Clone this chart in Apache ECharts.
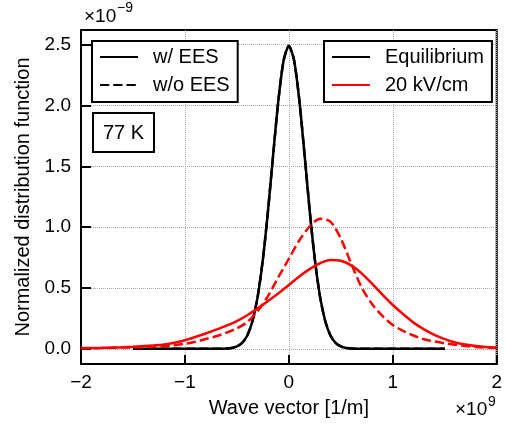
<!DOCTYPE html>
<html><head><meta charset="utf-8">
<script src="https://cdn.jsdelivr.net/npm/echarts@6/dist/echarts.min.js"></script>
<style>html,body{margin:0;padding:0;background:#fff}#c{width:505px;height:424px}</style>
</head><body><div id="c"></div>
<script>
// Wave vector (x1e9 1/m) for the 20 kV/cm curves
const xField = [-2.0,-1.9,-1.8,-1.7,-1.6,-1.5,-1.4,-1.3,-1.2,-1.1,-1.0,-0.9,-0.8,-0.7,-0.6,-0.5,-0.4,-0.3,-0.2,-0.1,0.0,0.1,0.2,0.3,0.4,0.5,0.6,0.7,0.8,0.9,1.0,1.1,1.2,1.3,1.4,1.5,1.6,1.7,1.8,1.9,2.0];
// 20 kV/cm, w/ EES (solid red)
const field20WithEES = [0.006,0.007,0.008,0.010,0.013,0.017,0.022,0.028,0.036,0.050,0.070,0.097,0.126,0.157,0.190,0.228,0.276,0.332,0.393,0.457,0.525,0.595,0.655,0.703,0.730,0.724,0.686,0.620,0.535,0.445,0.360,0.285,0.215,0.160,0.115,0.080,0.052,0.035,0.023,0.015,0.010];
// 20 kV/cm, w/o EES (dashed red)
const field20WithoutEES = [0.004,0.005,0.006,0.008,0.010,0.012,0.015,0.018,0.022,0.030,0.041,0.058,0.080,0.103,0.133,0.168,0.220,0.310,0.435,0.590,0.740,0.890,1.005,1.068,1.045,0.905,0.700,0.505,0.368,0.270,0.195,0.148,0.109,0.078,0.060,0.045,0.033,0.023,0.015,0.010,0.006];
// Wave vector for the equilibrium curve
const xEq = [-1.5,-1.45,-1.4,-1.35,-1.3,-1.25,-1.2,-1.15,-1.1,-1.05,-1.0,-0.95,-0.9,-0.85,-0.8,-0.75,-0.7,-0.65,-0.6,-0.55,-0.5,-0.45,-0.4,-0.35,-0.3,-0.25,-0.2,-0.15,-0.1,-0.05,0.0,0.05,0.1,0.15,0.2,0.25,0.3,0.35,0.4,0.45,0.5,0.55,0.6,0.65,0.7,0.75,0.8,0.85,0.9,0.95,1.0,1.05,1.1,1.15,1.2,1.25,1.3,1.35,1.4,1.45,1.5];
// Equilibrium (same with and without EES)
const equilibrium = [0,0,0,0,0,0,0,0,0,0,0,0,0,0,0,0,0,0.001,0.002,0.007,0.019,0.048,0.109,0.228,0.429,0.735,1.140,1.605,2.048,2.371,2.490,2.371,2.048,1.605,1.140,0.735,0.429,0.228,0.109,0.048,0.019,0.007,0.002,0.001,0,0,0,0,0,0,0,0,0,0,0,0,0,0,0,0,0];
const yTickValues = [0, 0.5, 1.0, 1.5, 2.0, 2.5];
const legendStyle = ['w/ EES', 'w/o EES'];
const legendCase = ['Equilibrium', '20 kV/cm'];

const FONT = '"Liberation Sans", Arial, sans-serif';
const DASH = [9.25, 4];
function pairs(xs, ys) { return xs.map((x, i) => [x, ys[i]]); }

const chart = echarts.init(document.getElementById('c'), null, {renderer: 'canvas'});
const legendCommon = {
  orient: 'vertical', top: 41, backgroundColor: '#fff', borderColor: '#000', borderWidth: 2,
  borderRadius: 0, padding: [6, 8, 7, 7], itemWidth: 38, itemHeight: 14, itemGap: 8,
  itemStyle: {opacity: 0},
  textStyle: {fontSize: 20, color: '#000', fontFamily: FONT, padding: [0, 0, 0, 10]},
  selectedMode: false, z: 10
};
chart.setOption({
  animation: false,
  textStyle: {fontFamily: FONT},
  grid: {left: 81, right: 3, top: 30, bottom: 60, show: true, borderColor: '#000', borderWidth: 2, containLabel: false},
  xAxis: {
    type: 'value', min: -2, max: 2, interval: 1,
    axisLine: {show: true, onZero: false, lineStyle: {color: '#000', width: 2}},
    axisTick: {show: true, inside: true, length: 9, lineStyle: {color: '#000', width: 2}},
    axisLabel: {fontSize: 19, color: '#000', margin: 9, fontFamily: FONT,
      formatter: v => String(v).replace('-', '\u2212')},
    splitLine: {show: true, lineStyle: {color: '#aaa', type: 'dotted', width: 1}},
    name: 'Wave vector [1/m]', nameLocation: 'middle', nameGap: 34,
    nameTextStyle: {fontSize: 20, color: '#000', fontFamily: FONT}
  },
  yAxis: {
    type: 'value', min: -0.125, max: 2.62,
    axisLine: {show: true, onZero: false, lineStyle: {color: '#000', width: 2}},
    axisTick: {show: true, inside: true, length: 10, customValues: yTickValues, lineStyle: {color: '#000', width: 2}},
    axisLabel: {fontSize: 19, color: '#000', margin: 10, fontFamily: FONT, customValues: yTickValues,
      formatter: v => Number(v).toFixed(1)},
    splitLine: {show: true, lineStyle: {color: '#aaa', type: 'dotted', width: 1}},
    name: 'Normalized distribution function', nameLocation: 'middle', nameGap: 48,
    nameTextStyle: {fontSize: 20, color: '#000', fontFamily: FONT}
  },
  legend: [
    Object.assign({}, legendCommon, {data: legendStyle, left: 92}),
    Object.assign({}, legendCommon, {data: legendCase, left: 324})
  ],
  graphic: [
    {type: 'rect', shape: {x: 93, y: 113, width: 61, height: 39}, style: {fill: '#fff', stroke: '#000', lineWidth: 2}, z: 20},
    {type: 'text', x: 123.5, y: 133, style: {text: '77 K', fontSize: 20, fontFamily: FONT, fill: '#000', align: 'center', verticalAlign: 'middle', textAlign: 'center', textVerticalAlign: 'middle'}, z: 21},
    {type: 'text', x: 84, y: 17, style: {text: '\u00d710', fontSize: 19, fontFamily: FONT, fill: '#000', verticalAlign: 'middle', textVerticalAlign: 'middle'}, z: 21},
    {type: 'text', x: 117, y: 8, style: {text: '\u22129', fontSize: 14, fontFamily: FONT, fill: '#000', verticalAlign: 'middle', textVerticalAlign: 'middle'}, z: 21},
    {type: 'text', x: 455, y: 410, style: {text: '\u00d710', fontSize: 19, fontFamily: FONT, fill: '#000', verticalAlign: 'middle', textVerticalAlign: 'middle'}, z: 21},
    {type: 'text', x: 488, y: 402, style: {text: '9', fontSize: 14, fontFamily: FONT, fill: '#000', verticalAlign: 'middle', textVerticalAlign: 'middle'}, z: 21}
  ],
  series: [
    {name: 'Equilibrium', type: 'line', symbol: 'none', smooth: 0.25, data: pairs(xEq, equilibrium),
      lineStyle: {color: '#000', width: 2.5}, itemStyle: {color: '#000'}, z: 3},
    {name: 'Equilibrium (w/o EES)', type: 'line', symbol: 'none', smooth: 0.25, data: pairs(xEq, equilibrium),
      lineStyle: {color: '#000', width: 2.5, type: DASH}, itemStyle: {color: '#000'}, z: 3},
    {name: '20 kV/cm', type: 'line', symbol: 'none', smooth: 0.3, data: pairs(xField, field20WithEES),
      lineStyle: {color: '#ff0000', width: 2.5}, itemStyle: {color: '#ff0000'}, z: 4},
    {name: '20 kV/cm (w/o EES)', type: 'line', symbol: 'none', smooth: 0.3, data: pairs(xField, field20WithoutEES),
      lineStyle: {color: '#ff0000', width: 2.5, type: DASH}, itemStyle: {color: '#ff0000'}, z: 4},
    {name: 'w/ EES', type: 'line', symbol: 'none', data: [],
      lineStyle: {color: '#000', width: 2.5}, itemStyle: {color: '#000'}},
    {name: 'w/o EES', type: 'line', symbol: 'none', data: [],
      lineStyle: {color: '#000', width: 2.5, type: DASH}, itemStyle: {color: '#000'}}
  ]
});
</script></body></html>
